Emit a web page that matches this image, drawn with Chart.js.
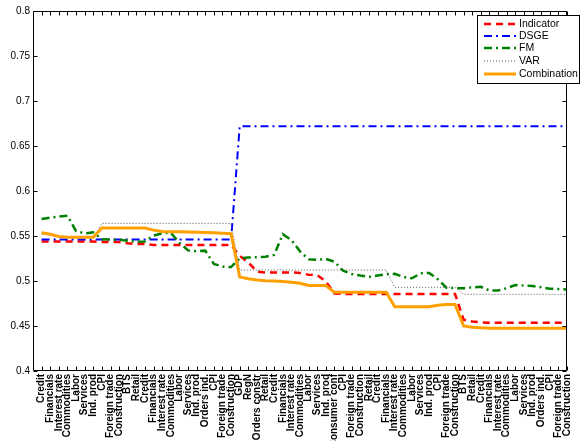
<!DOCTYPE html>
<html>
<head>
<meta charset="utf-8">
<script src="https://cdn.jsdelivr.net/npm/chart.js@4.4.1/dist/chart.umd.min.js"></script>
<style>
  html, body { margin: 0; padding: 0; background: #ffffff; }
  canvas { display: block; }
</style>
</head>
<body>
<canvas id="chart" width="582" height="441"></canvas>
<script>
// Forecast categories along the horizontal axis (five blocks of indicators)
const categories = [
  'Credit', 'Financials', 'Interest rate', 'Commodities', 'Labor', 'Services', 'Ind. prod', 'CPI',
  'Foreign trade', 'Construction', 'BTS', 'Retail',
  'Credit', 'Financials', 'Interest rate', 'Commodities', 'Labor', 'Services', 'Ind. prod', 'Orders ind.',
  'CPI', 'Foreign trade', 'Construction', 'GDP', 'RegN', 'Orders constr', 'Retail',
  'Credit', 'Financials', 'Interest rate', 'Commodities', 'Labor', 'Services', 'Ind. prod', 'Consumer conf',
  'CPI', 'Foreign trade', 'Construction', 'Retail',
  'Credit', 'Financials', 'Interest rate', 'Commodities', 'Labor', 'Services', 'Ind. prod', 'CPI',
  'Foreign trade', 'Construction', 'BTS', 'Retail',
  'Credit', 'Financials', 'Interest rate', 'Commodities', 'Labor', 'Services', 'Ind. prod', 'Orders ind.',
  'CPI', 'Foreign trade', 'Construction'
];

const indicator = [
  0.544, 0.544, 0.544, 0.544, 0.544, 0.544, 0.544, 0.5433, 0.5433, 0.5433,
  0.542, 0.541, 0.541, 0.540, 0.540, 0.540, 0.540, 0.540, 0.540, 0.540,
  0.540, 0.540, 0.540, 0.528, 0.5205, 0.5105, 0.5095, 0.5095, 0.5095, 0.5095,
  0.509, 0.507, 0.5066, 0.4995, 0.4862, 0.4856, 0.4856, 0.4856, 0.4856, 0.4856,
  0.4856, 0.4856, 0.4856, 0.4856, 0.4856, 0.4856, 0.4856, 0.4856, 0.4856, 0.457,
  0.455, 0.454, 0.4537, 0.4537, 0.4537, 0.4537, 0.4537, 0.4537, 0.4537, 0.4537,
  0.4537, 0.4537
];

const dsge = [
  0.546, 0.546, 0.546, 0.546, 0.546, 0.546, 0.546, 0.546, 0.546, 0.546,
  0.546, 0.546, 0.546, 0.546, 0.546, 0.546, 0.546, 0.546, 0.546, 0.546,
  0.546, 0.546, 0.546, 0.672, 0.672, 0.672, 0.672, 0.672, 0.672, 0.672,
  0.672, 0.672, 0.672, 0.672, 0.672, 0.672, 0.672, 0.672, 0.672, 0.672,
  0.672, 0.672, 0.672, 0.672, 0.672, 0.672, 0.672, 0.672, 0.672, 0.672,
  0.672, 0.672, 0.672, 0.672, 0.672, 0.672, 0.672, 0.672, 0.672, 0.672,
  0.672, 0.672
];

const fm = [
  0.569, 0.5705, 0.5715, 0.5725, 0.5555, 0.553, 0.554, 0.5465, 0.546, 0.5458,
  0.5448, 0.5435, 0.544, 0.5505, 0.553, 0.5535, 0.5425, 0.534, 0.533, 0.5337,
  0.519, 0.516, 0.5155, 0.5252, 0.526, 0.5265, 0.527, 0.529, 0.552, 0.5455,
  0.533, 0.524, 0.5235, 0.5245, 0.5215, 0.5115, 0.5078, 0.506, 0.5045, 0.506,
  0.5075, 0.508, 0.5045, 0.503, 0.5085, 0.509, 0.502, 0.4925, 0.492, 0.492,
  0.493, 0.4935, 0.4895, 0.4895, 0.492, 0.4955, 0.495, 0.4945, 0.493, 0.4915,
  0.491, 0.4905
];

const varModel = [
  0.552, 0.551, 0.549, 0.5485, 0.5485, 0.5485, 0.5485, 0.564, 0.564, 0.564,
  0.564, 0.564, 0.564, 0.564, 0.564, 0.564, 0.564, 0.564, 0.564, 0.564,
  0.564, 0.564, 0.564, 0.5122, 0.5122, 0.5122, 0.5122, 0.5122, 0.5122, 0.5122,
  0.5122, 0.5122, 0.5122, 0.5122, 0.5122, 0.5122, 0.5122, 0.5122, 0.5122, 0.5122,
  0.5122, 0.493, 0.493, 0.493, 0.493, 0.493, 0.493, 0.493, 0.493, 0.4852,
  0.4852, 0.4852, 0.4852, 0.4852, 0.4852, 0.4852, 0.4852, 0.4852, 0.4852, 0.4852,
  0.4852, 0.4852
];

const combination = [
  0.5535, 0.552, 0.5495, 0.5486, 0.5486, 0.5486, 0.5486, 0.5588, 0.5588, 0.5588,
  0.5588, 0.5588, 0.5588, 0.5565, 0.555, 0.5548, 0.5546, 0.5544, 0.5542, 0.5538,
  0.5535, 0.553, 0.5525, 0.5045, 0.5025, 0.501, 0.5003, 0.500, 0.4995, 0.4985,
  0.4975, 0.495, 0.495, 0.495, 0.4874, 0.4874, 0.4874, 0.4874, 0.4874, 0.4874,
  0.4874, 0.4715, 0.4715, 0.4715, 0.4715, 0.4715, 0.473, 0.474, 0.474, 0.450,
  0.4485, 0.448, 0.4475, 0.4475, 0.4475, 0.4475, 0.4475, 0.4475, 0.4475, 0.4475,
  0.4475, 0.4475
];

const yTicks = [0.4, 0.45, 0.5, 0.55, 0.6, 0.65, 0.7, 0.75, 0.8];

const FONT = '"Liberation Sans", Arial, Helvetica, sans-serif';
const toPoints = arr => arr.map((v, i) => ({ x: i + 1, y: v }));

// Axes box with inward tick marks on all four sides
const framePlugin = {
  id: 'frame',
  afterDatasetsDraw(chart) {
    const { ctx, chartArea: a, scales } = chart;
    const L = Math.round(a.left) + 0.5, R = Math.round(a.right) - 0.5;
    const T = Math.round(a.top) + 0.5, B = Math.round(a.bottom) - 0.5;
    ctx.save();
    ctx.strokeStyle = '#000';
    ctx.lineWidth = 1;
    ctx.beginPath();
    ctx.rect(L, T, R - L, B - T);
    const tl = 4;
    scales.y.ticks.forEach(t => {
      const py = Math.round(scales.y.getPixelForValue(t.value)) + 0.5;
      ctx.moveTo(L, py); ctx.lineTo(L + tl, py);
      ctx.moveTo(R, py); ctx.lineTo(R - tl, py);
    });
    scales.x.ticks.forEach(t => {
      const px = Math.round(scales.x.getPixelForValue(t.value)) + 0.5;
      ctx.moveTo(px, B); ctx.lineTo(px, B - tl);
      ctx.moveTo(px, T); ctx.lineTo(px, T + tl);
    });
    ctx.stroke();
    ctx.restore();
  }
};

// Boxed legend in the upper right corner of the plot
const legendPlugin = {
  id: 'boxLegend',
  afterDraw(chart) {
    const { ctx } = chart;
    const x0 = 477.5, y0 = 15.5, w = 102, h = 68;
    ctx.save();
    ctx.fillStyle = '#fff';
    ctx.fillRect(x0, y0, w, h);
    ctx.strokeStyle = '#000';
    ctx.lineWidth = 1;
    ctx.strokeRect(x0, y0, w, h);
    ctx.font = '10.5px ' + FONT;
    ctx.textBaseline = 'middle';
    ctx.fillStyle = '#000';
    const rowY = [24, 36, 48, 61, 74];
    chart.data.datasets.forEach((ds, i) => {
      const y = rowY[i];
      ctx.strokeStyle = ds.borderColor;
      ctx.lineWidth = ds.borderWidth;
      ctx.setLineDash(ds.borderDash || []);
      ctx.beginPath();
      ctx.moveTo(484, y);
      ctx.lineTo(516, y);
      ctx.stroke();
      ctx.setLineDash([]);
      ctx.fillText(ds.label, 519, y + 0.5);
    });
    ctx.restore();
  }
};

new Chart(document.getElementById('chart'), {
  type: 'line',
  data: {
    datasets: [
      { label: 'Indicator', data: toPoints(indicator), borderColor: '#ff0000', borderWidth: 2.5, borderDash: [7, 5], order: 4 },
      { label: 'DSGE', data: toPoints(dsge), borderColor: '#0000ff', borderWidth: 2, borderDash: [8, 4, 2, 4], order: 3 },
      { label: 'FM', data: toPoints(fm), borderColor: '#008000', borderWidth: 2.5, borderDash: [8, 4, 2, 4], order: 2 },
      { label: 'VAR', data: toPoints(varModel), borderColor: '#555555', borderWidth: 1, borderDash: [1, 2], order: 1 },
      { label: 'Combination', data: toPoints(combination), borderColor: '#ffa000', borderWidth: 3, order: 0 }
    ]
  },
  options: {
    responsive: false,
    animation: false,
    devicePixelRatio: 1,
    layout: { padding: { top: 11, right: 3, left: 0, bottom: 0 } },
    elements: { point: { radius: 0 }, line: { tension: 0, fill: false } },
    plugins: { legend: { display: false }, tooltip: { enabled: false } },
    scales: {
      x: {
        type: 'linear',
        min: 0,
        max: categories.length,
        grid: { display: false, drawTicks: false },
        border: { display: false },
        afterBuildTicks: scale => {
          scale.ticks = categories.map((_, i) => ({ value: i + 1 }));
        },
        afterFit: scale => { scale.height = 70; },
        ticks: {
          autoSkip: false,
          maxRotation: 90,
          minRotation: 90,
          padding: 3,
          color: '#000',
          font: { family: FONT, size: 10, weight: 'bold' },
          callback: v => categories[v - 1] || ''
        }
      },
      y: {
        min: 0.4,
        max: 0.8,
        grid: { display: false, drawTicks: false },
        border: { display: false },
        afterBuildTicks: scale => {
          scale.ticks = yTicks.map(v => ({ value: v }));
        },
        afterFit: scale => { scale.width = 33; },
        ticks: {
          padding: 3,
          color: '#000',
          font: { family: FONT, size: 10 },
          callback: v => String(Number(v.toFixed(2)))
        }
      }
    }
  },
  plugins: [framePlugin, legendPlugin]
});
</script>
</body>
</html>
